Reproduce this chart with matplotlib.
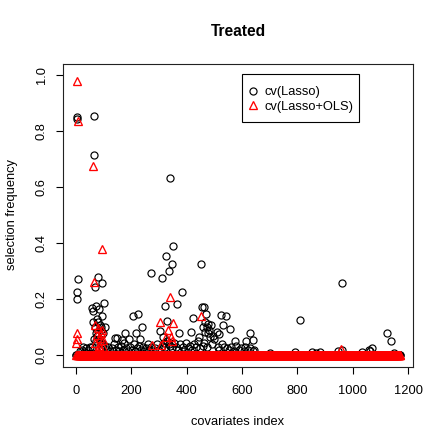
import numpy as np
import matplotlib
matplotlib.use("Agg")
import matplotlib.pyplot as plt
from matplotlib.lines import Line2D
from matplotlib.patches import Rectangle

plt.rcParams['font.family'] = ['Liberation Sans', 'DejaVu Sans']

n_cov = 1170

# cv(Lasso): covariate index -> selection frequency (all others 0)
lasso_idx = [3, 5, 65, 67, 96, 340, 88, 80, 86, 96, 104,
             10, 4, 6, 70, 82, 88, 94, 100, 70, 100, 102, 142, 142,
             60, 63, 66, 73, 76, 80, 83, 86, 90, 93, 96, 99, 62, 68, 72, 78, 84, 88, 92,
             100, 104, 66, 74, 58, 95, 106,
             352, 325, 348, 336, 271, 313, 452, 304, 382, 323, 366, 207, 225, 241, 424,
             454, 464, 331, 177, 217, 149, 166, 194, 231, 304, 372, 417, 467, 316,
             470, 524, 541, 478, 488, 532, 557, 508, 476, 629, 641, 614, 575, 446,
             468, 474, 482, 460, 495, 500, 516, 484,
             15, 22, 30, 38, 45, 52, 28,
             112, 118, 125, 130, 138, 145, 152, 158, 163, 170, 176, 182, 188, 196, 203,
             210, 214, 222, 228, 235, 242, 248, 255, 260,
             265, 272, 280, 286, 292, 298, 310, 318, 322, 328, 335, 342, 347, 356, 362,
             370, 378, 386, 392, 398, 405, 412, 420, 428, 435, 442, 448, 458, 462, 472,
             490, 512, 518, 526, 536, 545, 552, 562, 570, 580, 590, 598, 606, 612, 620,
             630, 638, 645,
             700, 791, 810, 852, 866, 882, 947, 960, 962, 1033, 1057, 1062, 1069, 1123,
             1138, 1150]
lasso_val = [0.850, 0.845, 0.856, 0.716, 0.672, 0.635, 0.489, 0.464, 0.454, 0.417, 0.394,
             0.272, 0.225, 0.201, 0.278, 0.280, 0.272, 0.257, 0.249, 0.243, 0.205, 0.188,
             0.122, 0.063,
             0.170, 0.160, 0.150, 0.175, 0.130, 0.120, 0.165, 0.110, 0.100, 0.090, 0.140,
             0.080, 0.120, 0.100, 0.080, 0.070, 0.060, 0.050, 0.045,
             0.040, 0.035, 0.060, 0.050, 0.030, 0.030, 0.100,
             0.390, 0.356, 0.325, 0.300, 0.296, 0.276, 0.325, 0.225, 0.225, 0.178, 0.184,
             0.141, 0.148, 0.100, 0.133,
             0.172, 0.172, 0.122, 0.080, 0.082, 0.063, 0.057, 0.060, 0.058, 0.087, 0.079,
             0.085, 0.085, 0.066,
             0.148, 0.146, 0.142, 0.112, 0.110, 0.109, 0.095, 0.085, 0.079, 0.079, 0.057,
             0.050, 0.053, 0.065,
             0.120, 0.100, 0.090, 0.100, 0.070, 0.060, 0.075, 0.065,
             0.015, 0.020, 0.012, 0.025, 0.018, 0.030, 0.030,
             0.020, 0.030, 0.015, 0.025, 0.040, 0.020, 0.030, 0.015, 0.035, 0.020, 0.045,
             0.025, 0.015, 0.030, 0.020,
             0.040, 0.015, 0.025, 0.035, 0.020, 0.030, 0.015, 0.025, 0.040,
             0.020, 0.030, 0.015, 0.025, 0.040, 0.020, 0.035, 0.045, 0.030, 0.050, 0.040,
             0.035, 0.025, 0.045, 0.030,
             0.020, 0.040, 0.030, 0.015, 0.045, 0.025, 0.035, 0.020, 0.040, 0.030, 0.050,
             0.025, 0.035, 0.045, 0.030,
             0.040, 0.030, 0.020, 0.040, 0.030, 0.025, 0.020, 0.030, 0.015, 0.035, 0.020,
             0.025, 0.015, 0.030, 0.020,
             0.025, 0.015, 0.020,
             0.008, 0.012, 0.127, 0.012, 0.008, 0.014, 0.016, 0.260, 0.020, 0.012, 0.020,
             0.015, 0.028, 0.079, 0.050, 0.010]

# cv(Lasso+OLS): covariate index -> selection frequency (all others 0)
ols_idx = [4, 9, 63, 96, 65, 3, 5, 2,
           70, 82, 94, 76, 88, 100, 71, 83, 91, 86, 78, 98,
           340, 304, 352, 334, 326, 274, 346, 309, 343, 452, 958]
ols_val = [0.980, 0.835, 0.675, 0.381, 0.262, 0.080, 0.060, 0.044,
           0.109, 0.098, 0.092, 0.074, 0.062, 0.056, 0.044, 0.035, 0.080, 0.025, 0.020, 0.030,
           0.210, 0.120, 0.117, 0.091, 0.065, 0.037, 0.053, 0.037, 0.066, 0.141, 0.022]

lasso = np.zeros(n_cov)
lasso[np.array(lasso_idx) - 1] = lasso_val
ols = np.zeros(n_cov)
ols[np.array(ols_idx) - 1] = ols_val
x = np.arange(1, n_cov + 1)

W = H = 446
FS = 9.3
fig = plt.figure(figsize=(W / 100, H / 100), dpi=100)
ax = fig.add_axes([63 / W, 1 - 366.7 / H, (413 - 63) / W, (366.7 - 64) / H])

ax.plot(x, lasso, linestyle='none', marker='o', markersize=5.1,
        markerfacecolor='none', markeredgecolor='black', markeredgewidth=0.85)
ax.plot(x, ols, linestyle='none', marker='^', markersize=6.3,
        markerfacecolor='none', markeredgecolor='red', markeredgewidth=0.95)

ax.set_xlim(1 - 0.04 * (n_cov - 1), n_cov + 0.04 * (n_cov - 1))
ax.set_ylim(-0.04, 1.04)
ax.set_xticks([0, 200, 400, 600, 800, 1000, 1200])
ax.set_yticks([0.0, 0.2, 0.4, 0.6, 0.8, 1.0])
ax.set_yticklabels(['0.0', '0.2', '0.4', '0.6', '0.8', '1.0'], rotation=90, va='center')
ax.tick_params(direction='out', length=5, width=0.8, labelsize=FS, colors='black')
ax.tick_params(axis='x', pad=8.5)
ax.tick_params(axis='y', pad=6)
for s in ax.spines.values():
    s.set_linewidth(0.8)
    s.set_color('#222222')

fig.text(238 / W, 1 - 32 / H, 'Treated', ha='center', va='center',
         fontsize=11.2, fontweight='bold')
fig.text(238 / W, 1 - 422 / H, 'covariates index', ha='center', va='center', fontsize=FS)
fig.text(12 / W, 1 - 215 / H, 'selection frequency', ha='center', va='center',
         rotation=90, fontsize=FS)

# legend box
fig.patches.append(Rectangle((241.7 / W, 1 - 121.7 / H), (359.3 - 241.7) / W,
                             (121.7 - 74.3) / H, transform=fig.transFigure,
                             facecolor='white', edgecolor='black', linewidth=0.8,
                             zorder=5))
handles = [Line2D([], [], linestyle='none', marker='o', markersize=5.1,
                  markerfacecolor='none', markeredgecolor='black', markeredgewidth=0.85),
           Line2D([], [], linestyle='none', marker='^', markersize=6.3,
                  markerfacecolor='none', markeredgecolor='red', markeredgewidth=0.95)]
leg = fig.legend(handles, ['cv(Lasso)', 'cv(Lasso+OLS)'], loc='upper left',
                 bbox_to_anchor=(250.7 / W, 1 - 86.3 / H), bbox_transform=fig.transFigure,
                 borderaxespad=0, borderpad=0, frameon=False,
                 fontsize=FS, handlelength=0.4, handletextpad=0.7,
                 labelspacing=0.2)
leg.set_zorder(6)

fig.savefig('out.png', dpi=100)
